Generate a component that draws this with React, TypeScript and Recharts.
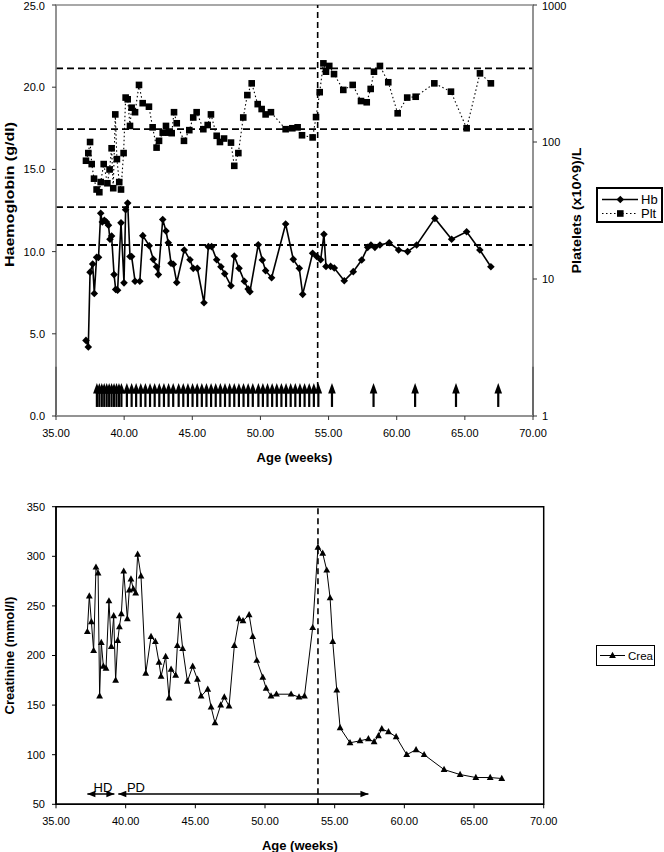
import React from 'react';
import { ComposedChart, Line, Scatter, XAxis, YAxis, ReferenceLine, ReferenceArea } from 'recharts';

const FONT = '"Liberation Sans", Arial, Helvetica, sans-serif';

// ---------- Top chart data ----------
const hbWeeks = [37.2,37.37,37.5,37.69,37.81,37.98,38.12,38.28,38.4,38.55,38.7,38.85,38.96,39.08,39.26,39.38,39.52,39.77,39.99,40.11,40.26,40.43,40.55,40.8,41.15,41.37,41.84,42.14,42.38,42.51,42.83,43.07,43.24,43.44,43.61,43.86,44.41,44.83,45.07,45.37,45.86,46.18,46.42,46.79,47.1,47.38,47.84,48.08,48.43,48.82,49.1,49.23,49.84,50.14,50.38,50.82,51.85,52.41,52.85,53.1,53.83,54.13,54.42,54.66,54.81,55.15,55.42,56.15,56.81,57.43,57.87,58.11,58.4,58.77,59.45,60.14,60.8,61.46,62.8,64.03,65.13,66.1,66.91];
const hbValues = [4.6,4.2,8.75,9.25,7.45,9.65,9.65,12.33,11.8,11.9,11.8,11.6,10.75,10.95,8.6,7.7,7.65,11.75,8.1,12.55,12.95,9.7,9.7,8.2,8.2,10.97,10.36,9.53,9.08,8.6,11.95,11.25,10.54,9.29,9.23,8.12,10.1,9.5,8.98,8.98,6.89,10.3,10.3,9.5,9.08,8.65,7.92,9.73,8.98,8.2,7.72,7.56,10.42,9.49,8.84,8.41,11.68,9.53,8.98,7.4,9.9,9.7,9.5,11.05,9.1,9.1,9.0,8.23,8.78,9.49,10.26,10.4,10.26,10.4,10.54,10.1,10.0,10.4,12.02,10.75,11.21,10.1,9.08];

const pltWeeks = [37.2,37.37,37.5,37.62,37.79,37.98,38.18,38.28,38.5,38.77,38.93,39.08,39.2,39.35,39.47,39.64,39.77,39.96,40.11,40.26,40.43,40.55,40.8,41.09,41.36,41.82,42.09,42.38,42.56,42.83,43.07,43.24,43.49,43.66,43.86,44.39,44.78,45.07,45.32,45.81,46.13,46.37,46.79,47.03,47.33,47.84,48.08,48.38,48.74,49.04,49.36,49.8,50.09,50.38,50.77,51.85,52.34,52.73,53.05,53.83,54.08,54.35,54.62,54.81,55.05,55.4,56.08,56.77,57.38,57.8,58.09,58.33,58.77,59.38,60.07,60.77,61.39,62.76,63.98,65.13,66.11,66.91];
const pltValues = [73,83,100,69,54,45,43,51,69,50,63,90,46,159,75,51,45,83,211,205,131,178,165,261,192,181,128,91,102,117,131,117,116,165,137,102,122,151,165,124,133,159,111,100,106,99,67,83,151,220,268,189,174,159,165,124,126,128,112,108,152,231,375,326,359,313,240,261,199,195,244,326,359,273,162,211,214,268,233,126,317,268];

// treatment arrows (weeks)
const arrowWeeks = [38.0,38.18,38.36,38.54,38.72,38.9,39.08,39.26,39.44,39.62,39.8,
  40.2,40.55,40.88,41.22,41.56,41.9,42.24,42.58,42.92,43.26,43.6,
  44.0,44.34,44.68,45.02,45.36,45.7,46.04,46.38,46.72,47.06,47.4,47.74,48.08,48.42,48.76,49.1,49.44,
  49.85,50.18,50.52,50.86,51.2,51.54,51.88,52.22,52.56,52.9,53.24,53.58,53.92,54.25,
  55.25,58.3,61.35,64.35,67.45];
const arrowBase = 0.55;

const xTicks = [35,40,45,50,55,60,65,70];
const hbTicks = [0,5,10,15,20,25];
const pltTicks = [1,10,100,1000];
const hbRefLevels = [21.15,17.45,12.7,10.4];
const topEventWeek = 54.2;
const topEventFrom = 1.7;

// ---------- Bottom chart data ----------
const creaWeeks = [37.25,37.39,37.54,37.7,37.87,38.02,38.13,38.25,38.4,38.59,38.8,38.97,39.14,39.28,39.43,39.55,39.69,39.86,40.12,40.26,40.38,40.55,40.72,40.86,41.1,41.44,41.82,42.13,42.39,42.54,42.87,43.11,43.26,43.59,43.71,43.85,44.09,44.43,44.81,45.15,45.41,45.89,46.13,46.41,46.82,47.08,47.42,47.8,48.14,48.42,48.86,49.12,49.41,49.84,50.08,50.43,50.82,51.87,52.44,52.83,53.42,53.8,54.14,54.43,54.67,54.86,55.15,55.39,56.1,56.82,57.42,57.83,58.14,58.38,58.86,59.41,60.17,60.84,61.42,62.85,64.0,65.13,66.16,66.99];
const creaValues = [224,260,234,205,289,283,159,213,189,187,255,209,240,175,215,229,242,285,237,266,277,267,263,302,280,182,219,214,193,179,199,157,186,180,210,240,207,174,189,176,159,166,148,132,150,158,149,210,237,235,241,219,195,178,167,159,161,161,158,159,228,309,303,286,258,214,165,127,112,114,116,113,119,126,123,118,100,105,100,85,80,77,77,76];
const creaTicks = [50,100,150,200,250,300,350];
const bottomEventWeek = 53.8;
const hdSpan = [37.25,39.19];
const pdSpan = [39.47,57.42];
const modalityLevel = 60.4;
const modalityLabels = ['HD','PD'];
const modalityLabelWeeks = [38.37,40.74];
const modalityLabelLevel = 67.4;

// ---------- tables ----------
const hbData = hbWeeks.map((w, i) => ({ w, v: hbValues[i] }));
const pltData = pltWeeks.map((w, i) => ({ w, v: pltValues[i] }));
const arrowData = arrowWeeks.map((w) => ({ w, v: arrowBase }));
const creaData = creaWeeks.map((w, i) => ({ w, v: creaValues[i] }));
const hdData = [{ w: hdSpan[0], v: modalityLevel, dir: 'L' }, { w: hdSpan[1], v: modalityLevel, dir: 'R' }];
const pdData = [{ w: pdSpan[0], v: modalityLevel, dir: 'L' }, { w: pdSpan[1], v: modalityLevel, dir: 'R' }];
const labelData = modalityLabels.map((t, i) => ({ w: modalityLabelWeeks[i], v: modalityLabelLevel, t }));

// ---------- shapes ----------
const diamondDot = (p: any) => {
  const { cx, cy, index } = p;
  if (cx == null || cy == null) return <g key={`d${index}`} />;
  const s = 3.8;
  return <path key={`d${index}`} d={`M${cx},${cy - s}L${cx + s},${cy}L${cx},${cy + s}L${cx - s},${cy}Z`} fill="#000" />;
};
const squareDot = (p: any) => {
  const { cx, cy, index } = p;
  if (cx == null || cy == null) return <g key={`s${index}`} />;
  const s = 6.6;
  return <rect key={`s${index}`} x={cx - s / 2} y={cy - s / 2} width={s} height={s} fill="#000" />;
};
const triangleDot = (p: any) => {
  const { cx, cy, index } = p;
  if (cx == null || cy == null) return <g key={`t${index}`} />;
  return <path key={`t${index}`} d={`M${cx},${cy - 3.8}L${cx + 3.4},${cy + 2.4}L${cx - 3.4},${cy + 2.4}Z`} fill="#000" />;
};
const arrowHeadDot = (p: any) => {
  const { cx, cy, index, payload } = p;
  if (cx == null || cy == null) return <g key={`h${index}`} />;
  const dir = payload && payload.dir === 'L' ? -1 : 1;
  return <path key={`h${index}`} d={`M${cx},${cy}L${cx - dir * 8},${cy - 3.2}L${cx - dir * 8},${cy + 3.2}Z`} fill="#000" />;
};
const upArrow = (p: any) => {
  const { cx, cy } = p;
  if (cx == null || cy == null) return <g />;
  return (
    <g>
      <rect x={cx - 1.1} y={cy - 14} width={2.2} height={14} fill="#000" />
      <path d={`M${cx - 3.8},${cy - 13.5}L${cx + 3.8},${cy - 13.5}L${cx},${cy - 24}Z`} fill="#000" />
    </g>
  );
};
const textShape = (p: any) => {
  const { cx, cy, payload } = p;
  if (cx == null || cy == null) return <g />;
  return (
    <text x={cx} y={cy} textAnchor="middle" dominantBaseline="central" fontSize={13} fontFamily={FONT} fill="#000">
      {payload.t}
    </text>
  );
};

type VB = { x: number; y: number; width: number; height: number };
const getVB = (props: any, fb: VB): VB => (props && props.viewBox && props.viewBox.width != null ? props.viewBox : fb);

const xTitle = (text: string, fb: VB) => (props: any) => {
  const vb = getVB(props, fb);
  return (
    <text x={vb.x + vb.width / 2} y={vb.y + 41} textAnchor="middle" dominantBaseline="central" fontSize={13} fontWeight="bold" fontFamily={FONT} fill="#000">
      {text}
    </text>
  );
};
const yTitle = (text: string, fb: VB, dx: number, dy: number, len?: number) => (props: any) => {
  const vb = getVB(props, fb);
  const x = vb.x + dx;
  const y = vb.y + vb.height / 2 + dy;
  const extra: any = len ? { textLength: len, lengthAdjust: 'spacingAndGlyphs' } : {};
  return (
    <text x={x} y={y} transform={`rotate(-90 ${x} ${y})`} textAnchor="middle" dominantBaseline="central" fontSize={13} fontWeight="bold" fontFamily={FONT} fill="#000" {...extra}>
      {text}
    </text>
  );
};

const tickStyle = { fill: '#000', fontSize: 11, fontFamily: FONT };
const GRAY = '#8c8c8c';

export default function App() {
  return (
    <div style={{ position: 'absolute', left: 0, top: 0, width: 664, height: 852, background: '#fff', fontFamily: FONT }}>
      <div style={{ position: 'absolute', left: 0, top: 0 }}>
        <ComposedChart width={664} height={470} margin={{ top: 5, right: 71, bottom: 9, left: 8 }}>
          <XAxis
            type="number"
            dataKey="w"
            domain={[35, 70]}
            ticks={xTicks}
            allowDataOverflow
            tickFormatter={(v: number) => v.toFixed(2)}
            height={45}
            tickSize={4}
            tickMargin={9}
            axisLine={{ stroke: GRAY, strokeWidth: 1.5 }}
            tickLine={{ stroke: '#333' }}
            tick={tickStyle}
            label={xTitle('Age (weeks)', { x: 56, y: 416, width: 477, height: 45 })}
          />
          <YAxis
            yAxisId="hb"
            type="number"
            domain={[0, 25]}
            ticks={hbTicks}
            allowDataOverflow
            tickFormatter={(v: number) => v.toFixed(1)}
            width={48}
            tickSize={4}
            tickMargin={7}
            axisLine={{ stroke: GRAY, strokeWidth: 1.5 }}
            tickLine={{ stroke: '#333' }}
            tick={tickStyle}
            label={yTitle('Haemoglobin (g/dl)', { x: 8, y: 5, width: 48, height: 411 }, 1.5, -16, 145)}
          />
          <YAxis
            yAxisId="plt"
            orientation="right"
            type="number"
            scale="log"
            domain={[1, 1000]}
            ticks={pltTicks}
            allowDataOverflow
            width={60}
            tickSize={4}
            tickMargin={5}
            axisLine={{ stroke: GRAY, strokeWidth: 1.5 }}
            tickLine={{ stroke: '#333' }}
            tick={tickStyle}
            label={yTitle('Platelets (x10^9)/L', { x: 533, y: 5, width: 60, height: 411 }, 43.5, 0, 126)}
          />
          <ReferenceArea yAxisId="hb" x1={35} x2={70} y1={0} y2={25} fill="none" stroke={GRAY} strokeWidth={1.5} ifOverflow="visible" />
          <ReferenceLine yAxisId="hb" segment={[{ x: 35, y: 0 }, { x: 35, y: 3 }]} stroke="#000" strokeWidth={2} />
          <ReferenceLine yAxisId="hb" segment={[{ x: 70, y: 0 }, { x: 70, y: 3 }]} stroke="#000" strokeWidth={2} />
          {hbRefLevels.map((lvl) => (
            <ReferenceLine key={`r${lvl}`} yAxisId="hb" y={lvl} stroke="#000" strokeWidth={1.8} strokeDasharray="7 4" />
          ))}
          <ReferenceLine yAxisId="hb" segment={[{ x: topEventWeek, y: topEventFrom }, { x: topEventWeek, y: 25 }]} stroke="#000" strokeWidth={1.6} strokeDasharray="6 4" />
          <Line yAxisId="plt" data={pltData} dataKey="v" stroke="#000" strokeWidth={1.1} strokeDasharray="1.5 2.5" dot={squareDot} activeDot={false} isAnimationActive={false} />
          <Line yAxisId="hb" data={hbData} dataKey="v" stroke="#000" strokeWidth={1.6} dot={diamondDot} activeDot={false} isAnimationActive={false} />
          <Scatter yAxisId="hb" data={arrowData} dataKey="v" shape={upArrow} isAnimationActive={false} />
        </ComposedChart>
      </div>

      <div style={{ position: 'absolute', left: 596, top: 187, width: 63, height: 32, border: '2px solid #000', background: '#fff' }}>
        <svg width={63} height={32} style={{ display: 'block' }}>
          <line x1={4} y1={10.5} x2={40} y2={10.5} stroke="#000" strokeWidth={1.5} />
          <path d="M22.3,6.7L26.1,10.5L22.3,14.3L18.5,10.5Z" fill="#000" />
          <text x={43} y={10.5} dominantBaseline="central" fontSize={13} fontFamily={FONT} fill="#000">Hb</text>
          <line x1={4} y1={24.5} x2={40} y2={24.5} stroke="#000" strokeWidth={1.1} strokeDasharray="1.5 2.5" />
          <rect x={19} y={21.2} width={6.6} height={6.6} fill="#000" />
          <text x={43} y={24.5} dominantBaseline="central" fontSize={13} fontFamily={FONT} fill="#000">Plt</text>
        </svg>
      </div>

      <div style={{ position: 'absolute', left: 0, top: 470 }}>
        <ComposedChart width={664} height={382} margin={{ top: 36.7, right: 120.3, bottom: 2.7, left: 8 }}>
          <XAxis
            type="number"
            dataKey="w"
            domain={[35, 70]}
            ticks={xTicks}
            allowDataOverflow
            tickFormatter={(v: number) => v.toFixed(2)}
            height={45}
            tickSize={4}
            tickMargin={9}
            axisLine={{ stroke: '#000', strokeWidth: 1.5 }}
            tickLine={{ stroke: '#000' }}
            tick={tickStyle}
            label={xTitle('Age (weeks)', { x: 56, y: 334.3, width: 487.7, height: 45 })}
          />
          <YAxis
            type="number"
            domain={[50, 350]}
            ticks={creaTicks}
            allowDataOverflow
            width={48}
            tickSize={4}
            tickMargin={7}
            axisLine={{ stroke: '#000', strokeWidth: 1.5 }}
            tickLine={{ stroke: '#000' }}
            tick={tickStyle}
            label={yTitle('Creatinine (mmol/l)', { x: 8, y: 36.7, width: 48, height: 297.6 }, 1.5, 0)}
          />
          <ReferenceArea x1={35} x2={70} y1={50} y2={350} fill="none" stroke="#000" strokeWidth={1.5} ifOverflow="visible" />
          <ReferenceLine x={bottomEventWeek} stroke="#000" strokeWidth={1.6} strokeDasharray="6 4" />
          <Line data={hdData} dataKey="v" stroke="#000" strokeWidth={1.3} dot={arrowHeadDot} activeDot={false} isAnimationActive={false} />
          <Line data={pdData} dataKey="v" stroke="#000" strokeWidth={1.3} dot={arrowHeadDot} activeDot={false} isAnimationActive={false} />
          <Scatter data={labelData} dataKey="v" shape={textShape} isAnimationActive={false} />
          <Line data={creaData} dataKey="v" stroke="#000" strokeWidth={1} dot={triangleDot} activeDot={false} isAnimationActive={false} />
        </ComposedChart>
      </div>

      <div style={{ position: 'absolute', left: 596, top: 645, width: 57, height: 19, border: '1px solid #000', background: '#fff' }}>
        <svg width={57} height={19} style={{ display: 'block' }}>
          <line x1={3} y1={9.5} x2={28} y2={9.5} stroke="#000" strokeWidth={1} />
          <path d="M15.5,5.7L18.9,11.9L12.1,11.9Z" fill="#000" />
          <text x={31} y={9.5} dominantBaseline="central" fontSize={11.5} fontFamily={FONT} fill="#000">Crea</text>
        </svg>
      </div>
    </div>
  );
}
